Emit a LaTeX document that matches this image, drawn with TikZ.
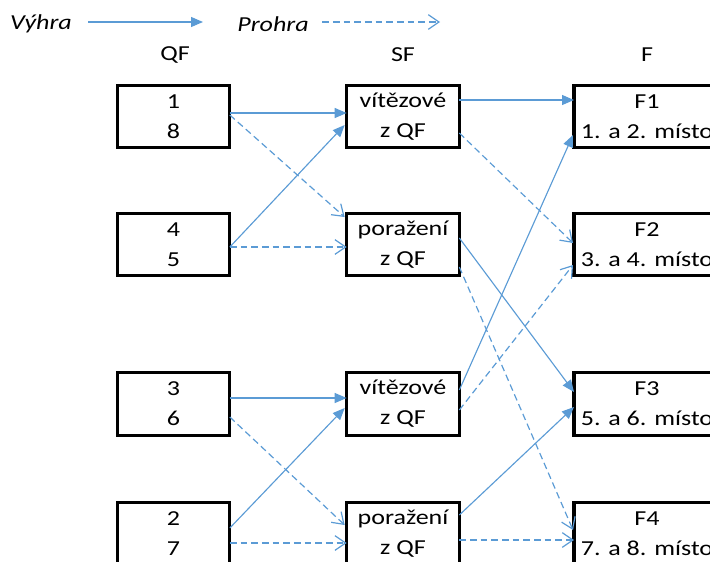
\documentclass[tikz,border=0pt]{standalone}
\usepackage{fontspec}
\setmainfont{Carlito}[FakeStretch=1.22]
\usepackage{tikz}
\usetikzlibrary{ arrows.meta, calc }
\definecolor{linkblue}{HTML}{5B9BD5}
\tikzset{
every node/.style={inner sep=1pt, font=\fontsize{16}{22.5}\selectfont}, % text size of all labels
team/.style={draw, line width=2.4pt, minimum width=84.5pt, minimum height=47pt, align=center, outer sep=0pt}, % a box of the pairing
final/.style={team, minimum width=109.5pt}, % the wider final boxes
win/.style={linkblue, line width=0.85pt, -{Triangle[length=9pt,width=7.5pt]}}, % winner goes on
lose/.style={linkblue, line width=0.9pt, dash pattern=on 5pt off 3pt, -{Straight Barb[length=8pt,width=11pt]}}, % loser goes on
}
\begin{document}
\begin{tikzpicture}[x=0.75pt,y=-0.75pt]
  \useasboundingbox (0,0) rectangle (710,561);
  \clip (0,0) rectangle (710,561);

  % legend
  \node (vyhra) at (41,24) {\itshape Výhra};
  \coordinate (vyhraend) at (203,22);
  \node (prohra) at (273,24) {\itshape Prohra};
  \coordinate (prohraend) at (440,22);
  \draw[win] ($(vyhra.east)+(15,-2)$) -- (vyhraend);
  \draw[lose] ($(prohra.east)+(12,-2)$) -- (prohraend);

  % round titles
  \node (tqf) at (175,55) {QF};
  \node (tsf) at (403,55) {SF};
  \node (tf) at (647,55) {F};

  % quarter finals
  \node[team] (qf1) at (173.5,116.5) {1\\8};
  \node[team] (qf2) at (173.5,244.5) {4\\5};
  \node[team] (qf3) at (173.5,404) {3\\6};
  \node[team] (qf4) at (173.5,533.5) {2\\7};

  % semi finals
  \node[team] (sf1) at (403,116.5) {vítězové\\z QF};
  \node[team] (sf2) at (403,244.5) {poražení\\z QF};
  \node[team] (sf3) at (403,404) {vítězové\\z QF};
  \node[team] (sf4) at (403,533.5) {poražení\\z QF};

  % finals
  \node[final] (f1) at (647,116.5) {F1\\1. a 2. místo};
  \node[final] (f2) at (647,244.5) {F2\\3. a 4. místo};
  \node[final] (f3) at (647,404) {F3\\5. a 6. místo};
  \node[final] (f4) at (647,533.5) {F4\\7. a 8. místo};

  % QF -> SF
  \draw[win] ($(qf1.east)+(0,-3.5)$) -- ($(sf1.west)+(0,-3.5)$);
  \draw[lose] ($(qf1.east)+(0,-1.5)$) -- ($(sf2.west)+(-2,-27.5)$);
  \draw[win] ($(qf2.east)+(0,2.5)$) -- ($(sf1.west)+(-2,8.5)$);
  \draw[lose] ($(qf2.east)+(0,2.5)$) -- ($(sf2.west)+(0,2.5)$);
  \draw[win] ($(qf3.east)+(0,-6)$) -- ($(sf3.west)+(0,-6)$);
  \draw[lose] ($(qf3.east)+(0,13)$) -- ($(sf4.west)+(-2,-8.5)$);
  \draw[win] ($(qf4.east)+(0,-5.5)$) -- ($(sf3.west)+(-2,4)$);
  \draw[lose] ($(qf4.east)+(0,9.5)$) -- ($(sf4.west)+(0,9.5)$);

  % SF -> F
  \draw[win] ($(sf1.east)+(0,-16.5)$) -- ($(f1.west)+(0,-16.5)$);
  \draw[lose] ($(sf1.east)+(0,16.5)$) -- ($(f2.west)+(-1,-1.5)$);
  \draw[win] ($(sf2.east)+(0,-6.5)$) -- ($(f3.west)+(0,-12)$);
  \draw[lose] ($(sf2.east)+(0,22.5)$) -- ($(f4.west)+(-1,-3.5)$);
  \draw[win] ($(sf3.east)+(0,-14)$) -- ($(f1.west)+(-1,18.5)$);
  \draw[lose] ($(sf3.east)+(0,6)$) -- ($(f2.west)+(-1,20.5)$);
  \draw[win] ($(sf4.east)+(0,-18.5)$) -- ($(f3.west)+(0,3)$);
  \draw[lose] ($(sf4.east)+(0,6.5)$) -- ($(f4.west)+(0,6.5)$);
\end{tikzpicture}
\end{document}
